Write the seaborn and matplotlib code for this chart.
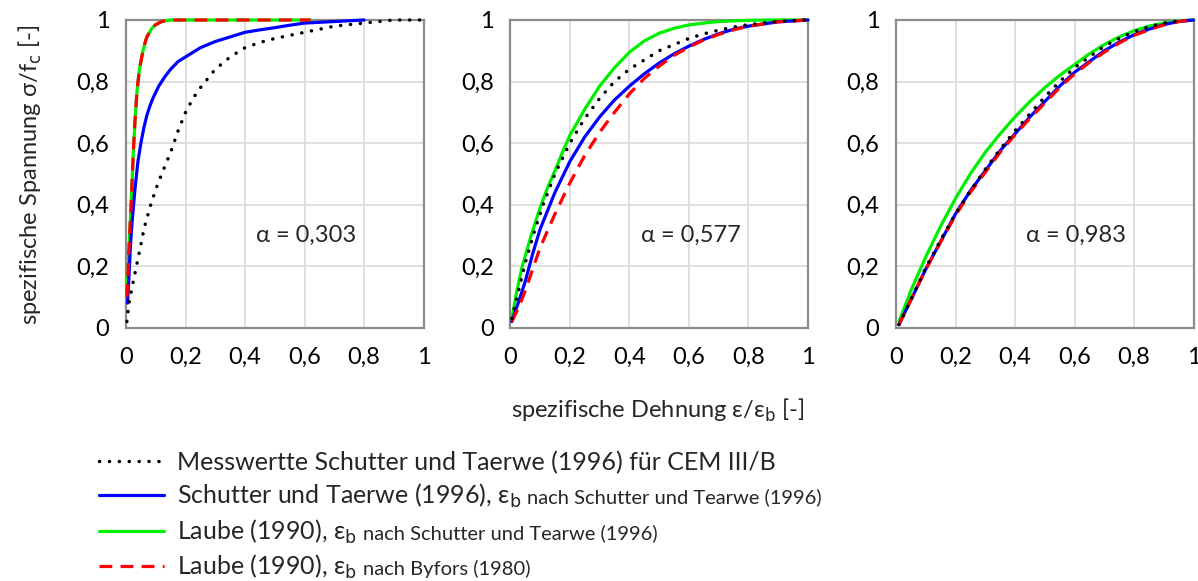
import matplotlib.pyplot as plt
import seaborn as sns
import pandas as pd

# abgelesene Werte (x = eps/eps_b, y = sigma/f_c)
# alpha = 0,303
a1_mess_x = [0.003, 0.01, 0.02, 0.035, 0.05, 0.06, 0.08, 0.1, 0.12, 0.15, 0.175, 0.2, 0.225, 0.25, 0.275, 0.3, 0.35, 0.4, 0.45, 0.5, 0.55, 0.6, 0.7, 0.8, 0.9, 1.0]
a1_mess_y = [0.02, 0.08, 0.13, 0.2, 0.27, 0.32, 0.39, 0.45, 0.5, 0.57, 0.64, 0.7, 0.745, 0.78, 0.81, 0.84, 0.88, 0.91, 0.927, 0.94, 0.95, 0.96, 0.98, 0.99, 1.0, 1.0]
a1_st_x = [0.005, 0.01, 0.015, 0.02, 0.03, 0.04, 0.05, 0.06, 0.07, 0.08, 0.09, 0.1, 0.11, 0.12, 0.13, 0.15, 0.175, 0.2, 0.25, 0.3, 0.35, 0.4, 0.45, 0.5, 0.55, 0.6, 0.7, 0.8]
a1_st_y = [0.08, 0.17, 0.27, 0.34, 0.45, 0.54, 0.6, 0.65, 0.69, 0.72, 0.745, 0.765, 0.785, 0.8, 0.815, 0.84, 0.865, 0.88, 0.91, 0.93, 0.945, 0.96, 0.968, 0.975, 0.983, 0.99, 0.995, 1.0]
a1_lst_x = [0.003, 0.01, 0.017, 0.025, 0.03, 0.037, 0.045, 0.057, 0.065, 0.07, 0.078, 0.085, 0.092, 0.1, 0.11, 0.12, 0.135, 0.15, 0.3, 0.45, 0.62]
a1_lst_y = [0.1, 0.26, 0.4, 0.58, 0.67, 0.77, 0.84, 0.9, 0.93, 0.945, 0.958, 0.97, 0.978, 0.985, 0.99, 0.995, 0.998, 1.0, 1.0, 1.0, 1.0]
a1_lby_x = [0.003, 0.01, 0.017, 0.025, 0.03, 0.037, 0.045, 0.057, 0.065, 0.07, 0.078, 0.085, 0.092, 0.1, 0.11, 0.12, 0.135, 0.15, 0.3, 0.45, 0.62]
a1_lby_y = [0.1, 0.26, 0.4, 0.58, 0.67, 0.77, 0.84, 0.9, 0.93, 0.945, 0.958, 0.97, 0.978, 0.985, 0.99, 0.995, 0.998, 1.0, 1.0, 1.0, 1.0]

# alpha = 0,577
a2_mess_x = [0.005, 0.03, 0.05, 0.08, 0.11, 0.15, 0.2, 0.25, 0.3, 0.35, 0.4, 0.45, 0.5, 0.55, 0.6, 0.65, 0.7, 0.75, 0.8, 0.9, 1.0]
a2_mess_y = [0.03, 0.13, 0.21, 0.31, 0.4, 0.5, 0.6, 0.68, 0.745, 0.8, 0.84, 0.87, 0.9, 0.92, 0.94, 0.955, 0.967, 0.977, 0.985, 0.995, 1.0]
a2_st_x = [0.005, 0.03, 0.05, 0.075, 0.1, 0.15, 0.2, 0.25, 0.3, 0.35, 0.4, 0.45, 0.5, 0.55, 0.6, 0.65, 0.7, 0.75, 0.8, 0.9, 1.0]
a2_st_y = [0.02, 0.09, 0.15, 0.24, 0.32, 0.44, 0.54, 0.62, 0.685, 0.74, 0.785, 0.825, 0.86, 0.89, 0.915, 0.937, 0.955, 0.97, 0.98, 0.994, 1.0]
a2_lst_x = [0.005, 0.02, 0.04, 0.07, 0.1, 0.125, 0.15, 0.175, 0.2, 0.25, 0.3, 0.35, 0.4, 0.45, 0.5, 0.55, 0.6, 0.65, 0.7, 0.8, 0.9, 1.0]
a2_lst_y = [0.03, 0.11, 0.2, 0.3, 0.39, 0.455, 0.51, 0.57, 0.625, 0.71, 0.785, 0.845, 0.895, 0.932, 0.957, 0.973, 0.984, 0.99, 0.995, 0.999, 1.0, 1.0]
a2_lby_x = [0.005, 0.03, 0.05, 0.075, 0.1, 0.15, 0.2, 0.25, 0.3, 0.35, 0.4, 0.45, 0.5, 0.55, 0.6, 0.65, 0.7, 0.75, 0.8, 0.9, 1.0]
a2_lby_y = [0.02, 0.07, 0.12, 0.19, 0.26, 0.37, 0.47, 0.56, 0.635, 0.7, 0.76, 0.81, 0.85, 0.885, 0.912, 0.935, 0.953, 0.968, 0.98, 0.994, 1.0]

# alpha = 0,983
a3_mess_x = [0.01, 0.05, 0.1, 0.15, 0.2, 0.25, 0.3, 0.35, 0.4, 0.45, 0.5, 0.55, 0.6, 0.65, 0.7, 0.75, 0.8, 0.85, 0.9, 0.97]
a3_mess_y = [0.01, 0.09, 0.195, 0.285, 0.37, 0.445, 0.515, 0.58, 0.64, 0.695, 0.75, 0.8, 0.845, 0.88, 0.915, 0.94, 0.962, 0.978, 0.99, 1.0]
a3_st_x = [0.01, 0.05, 0.1, 0.15, 0.2, 0.25, 0.3, 0.35, 0.4, 0.45, 0.5, 0.55, 0.6, 0.65, 0.7, 0.75, 0.8, 0.85, 0.9, 0.95, 1.0]
a3_st_y = [0.01, 0.09, 0.19, 0.28, 0.37, 0.445, 0.51, 0.575, 0.63, 0.685, 0.735, 0.785, 0.83, 0.865, 0.9, 0.928, 0.952, 0.97, 0.985, 0.995, 1.0]
a3_lst_x = [0.01, 0.05, 0.1, 0.15, 0.2, 0.25, 0.3, 0.35, 0.4, 0.45, 0.5, 0.55, 0.6, 0.65, 0.7, 0.75, 0.8, 0.85, 0.9, 0.95, 1.0]
a3_lst_y = [0.02, 0.12, 0.23, 0.33, 0.42, 0.5, 0.57, 0.63, 0.685, 0.735, 0.78, 0.82, 0.855, 0.89, 0.92, 0.945, 0.965, 0.98, 0.99, 0.997, 1.0]
a3_lby_x = [0.01, 0.05, 0.1, 0.15, 0.2, 0.25, 0.3, 0.35, 0.4, 0.45, 0.5, 0.55, 0.6, 0.65, 0.7, 0.75, 0.8, 0.85, 0.9, 0.95, 1.0]
a3_lby_y = [0.01, 0.09, 0.19, 0.278, 0.365, 0.44, 0.505, 0.57, 0.627, 0.68, 0.73, 0.78, 0.825, 0.862, 0.895, 0.925, 0.95, 0.968, 0.984, 0.995, 1.0]

alphas = ['0,303', '0,577', '0,983']
ticks = [0, 0.2, 0.4, 0.6, 0.8, 1]
tick_labels = ['0', '0,2', '0,4', '0,6', '0,8', '1']

labels = ['Messwertte Schutter und Taerwe (1996) für CEM III/B',
          'Schutter und Taerwe (1996), ε$_\\mathrm{b}$',
          'Laube (1990), ε$_\\mathrm{b}$',
          'Laube (1990), ε$_\\mathrm{b}$']
labels_small = ['', 'nach Schutter und Tearwe (1996)',
                'nach Schutter und Tearwe (1996)', 'nach Byfors (1980)']

sns.set_style('white')
plt.rcParams['font.family'] = ['Lato', 'DejaVu Sans']
plt.rcParams['mathtext.fontset'] = 'dejavusans'

grey = '#8c8c8c'
fig = plt.figure(figsize=(11.98, 5.81), dpi=100)
lefts = [0.1052, 0.4260, 0.7479]
axes = [fig.add_axes([l, 0.436, 0.2484, 0.5296]) for l in lefts]

panels = [
    [(a1_mess_x, a1_mess_y), (a1_st_x, a1_st_y), (a1_lst_x, a1_lst_y), (a1_lby_x, a1_lby_y)],
    [(a2_mess_x, a2_mess_y), (a2_st_x, a2_st_y), (a2_lst_x, a2_lst_y), (a2_lby_x, a2_lby_y)],
    [(a3_mess_x, a3_mess_y), (a3_st_x, a3_st_y), (a3_lst_x, a3_lst_y), (a3_lby_x, a3_lby_y)],
]
styles = [
    dict(color='black', linestyle=(0, (0.05, 2.8)), lw=2.5, dash_capstyle='round', zorder=5),
    dict(color='#0000ff', linestyle='-', lw=2.3, zorder=3),
    dict(color='#00ee00', linestyle='-', lw=2.3, zorder=2.5),
    dict(color='#ff0000', linestyle=(0, (4, 2.6)), lw=2.3, zorder=4),
]

for ax, curves, a in zip(axes, panels, alphas):
    for (cx, cy), st, lab in zip(curves, styles, labels):
        df = pd.DataFrame({'x': cx, 'y': cy})
        sns.lineplot(data=df, x='x', y='y', ax=ax, label=lab, clip_on=False, **st)
    if ax.get_legend():
        ax.get_legend().remove()
    ax.set_xlim(0, 1)
    ax.set_ylim(0, 1)
    ax.set_xticks(ticks, labels=tick_labels)
    ax.set_yticks(ticks, labels=tick_labels)
    ax.set_xlabel('')
    ax.set_ylabel('')
    ax.grid(True, color='#d9d9d9', lw=1.2)
    ax.set_axisbelow(True)
    for s in ax.spines.values():
        s.set_color(grey)
        s.set_linewidth(1.6)
        s.set_zorder(1)
    ax.tick_params(axis='both', direction='out', length=7, width=1.2, color=grey,
                   labelsize=17, labelcolor='black')
    ax.tick_params(axis='x', pad=7)
    ax.tick_params(axis='y', pad=5)
    ax.text(0.605, 0.3, 'α = ' + a, fontsize=17, ha='center', va='center')

fig.text(0.025, 0.70, 'spezifische Spannung σ/f$_\\mathrm{c}$ [-]', rotation=90,
         fontsize=17, ha='center', va='center')
fig.text(0.549, 0.294, 'spezifische Dehnung ε/ε$_\\mathrm{b}$ [-]',
         fontsize=17, ha='center', va='center')

handles, _ = axes[0].get_legend_handles_labels()
leg = fig.legend(handles, labels, loc='upper left', bbox_to_anchor=(0.083, 0.224),
                 frameon=False, fontsize=18, handlelength=2.6, handletextpad=0.5,
                 labelspacing=0.3, borderpad=0, borderaxespad=0)

# kleinere Zusatztexte hinter den Legendeneintraegen
fig.canvas.draw()
renderer = fig.canvas.get_renderer()
inv = fig.transFigure.inverted()
for txt, extra in zip(leg.get_texts(), labels_small):
    if not extra:
        continue
    bb = txt.get_window_extent(renderer)
    _, _, descent = txt._get_layout(renderer)
    px, py = inv.transform((bb.x1 + 6, bb.y0 + descent))
    fig.text(px, py, extra, fontsize=14.5, ha='left', va='baseline')

fig.savefig('out.png', dpi=100)
